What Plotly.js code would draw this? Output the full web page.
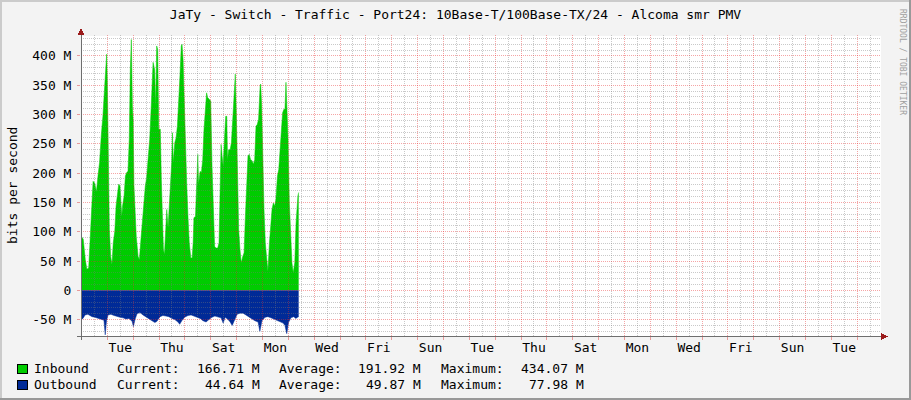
<!DOCTYPE html>
<html>
<head>
<meta charset="utf-8">
<script src="https://cdn.plot.ly/plotly-3.0.1.min.js"></script>
<style>
  html, body { margin: 0; padding: 0; background: #F3F3F3; }
  #chart { width: 911px; height: 400px; }
  .shapelayer path { shape-rendering: crispEdges; }
</style>
</head>
<body>
<div id="chart"></div>
<script>
// x values are days since Monday 00:00, y values are Mbit/s

const inDays = [0.00, 0.07, 0.15, 0.21, 0.28, 0.33, 0.38, 0.45, 0.51, 0.58, 0.64, 0.70, 0.77, 0.83, 0.90, 0.95, 0.975, 1.00, 1.04, 1.08,
  1.13, 1.18, 1.23, 1.29, 1.34, 1.39, 1.44, 1.49, 1.56, 1.59, 1.65, 1.70, 1.75, 1.80, 1.85, 1.89, 1.93, 1.97, 2.00, 2.03,
  2.06, 2.12, 2.19, 2.24, 2.29, 2.34, 2.41, 2.47, 2.52, 2.57, 2.64, 2.70, 2.77, 2.83, 2.87, 2.91, 2.95, 2.99, 3.05, 3.09,
  3.13, 3.17, 3.21, 3.25, 3.30, 3.35, 3.40, 3.45, 3.49, 3.52, 3.55, 3.61, 3.66, 3.71, 3.76, 3.81, 3.86, 3.89, 3.93, 3.97,
  4.02, 4.07, 4.12, 4.17, 4.23, 4.28, 4.32, 4.35, 4.41, 4.46, 4.50, 4.53, 4.59, 4.64, 4.69, 4.74, 4.79, 4.84, 4.88, 4.95,
  5.00, 5.05, 5.10, 5.15, 5.20, 5.27, 5.32, 5.36, 5.40, 5.44, 5.48, 5.53, 5.58, 5.62, 5.65, 5.69, 5.75, 5.80, 5.85, 5.90,
  5.95, 5.99, 6.03, 6.08, 6.13, 6.18, 6.24, 6.29, 6.34, 6.39, 6.44, 6.49, 6.54, 6.60, 6.65, 6.70, 6.75, 6.80, 6.85, 6.91,
  6.93, 6.97, 7.01, 7.06, 7.11, 7.16, 7.21, 7.27, 7.32, 7.37, 7.42, 7.47, 7.52, 7.58, 7.63, 7.68, 7.73, 7.78, 7.83, 7.87,
  7.91, 7.95, 7.99, 8.04, 8.09, 8.14, 8.19, 8.25, 8.30, 8.34, 8.37, 8.40];
const inMbps = [92, 87, 52, 36, 38, 81, 126, 186, 183, 168, 195, 218, 266, 297, 349, 389, 403, 360, 263, 104,
  58, 44, 81, 101, 144, 166, 181, 178, 126, 144, 161, 195, 201, 203, 258, 377, 428, 315, 290, 180,
  149, 92, 58, 52, 81, 109, 149, 178, 192, 218, 258, 315, 389, 377, 315, 417, 411, 275, 275, 189,
  126, 70, 61, 92, 138, 107, 149, 178, 218, 269, 218, 252, 260, 280, 315, 366, 417, 420, 394, 332,
  226, 183, 126, 81, 55, 55, 81, 124, 126, 178, 232, 181, 203, 201, 223, 275, 309, 337, 329, 326,
  323, 212, 132, 75, 72, 72, 81, 149, 249, 229, 212, 258, 297, 297, 223, 240, 240, 252, 297, 332,
  369, 303, 189, 104, 70, 47, 58, 64, 126, 189, 229, 232, 223, 221, 215, 223, 280, 283, 292, 349,
  352, 315, 206, 138, 81, 47, 32, 81, 115, 138, 149, 144, 155, 195, 206, 246, 286, 303, 309, 309,
  355, 303, 258, 149, 92, 47, 30, 47, 115, 149, 161, 167];

const outDays = [0.00, 0.06, 0.14, 0.25, 0.33, 0.41, 0.52, 0.64, 0.76, 0.87, 0.92, 0.97, 1.03, 1.14, 1.26, 1.37, 1.49, 1.61, 1.72, 1.84,
  1.96, 2.01, 2.07, 2.15, 2.26, 2.38, 2.50, 2.61, 2.73, 2.84, 2.92, 3.04, 3.15, 3.27, 3.38, 3.50, 3.61, 3.73, 3.80, 3.88,
  3.99, 4.12, 4.24, 4.35, 4.47, 4.59, 4.70, 4.82, 4.93, 5.05, 5.16, 5.28, 5.40, 5.48, 5.56, 5.67, 5.75, 5.83, 5.90, 6.02,
  6.13, 6.25, 6.36, 6.48, 6.60, 6.71, 6.83, 6.90, 6.98, 7.10, 7.21, 7.33, 7.45, 7.56, 7.68, 7.80, 7.87, 7.94, 8.01, 8.10,
  8.21, 8.29, 8.36, 8.40];
const outMbps = [50, 48, 42, 41, 43, 45, 46, 48, 50, 51, 76, 52, 42, 41, 43, 45, 46, 47, 49, 48,
  53, 62, 50, 40, 38, 42, 45, 48, 52, 55, 53, 45, 43, 44, 45, 48, 50, 54, 58, 52,
  46, 43, 42, 44, 46, 48, 52, 54, 50, 46, 44, 45, 47, 56, 46, 50, 54, 60, 52, 41,
  39, 39, 42, 46, 49, 52, 54, 70, 52, 46, 45, 47, 49, 51, 54, 56, 60, 74, 55, 47,
  45, 48, 46, 45];

// one label every second day, centred on noon
const dayLabels = ['Tue', 'Thu', 'Sat', 'Mon', 'Wed', 'Fri', 'Sun', 'Tue', 'Thu', 'Sat', 'Mon', 'Wed', 'Fri', 'Sun', 'Tue'];
const yTicks = [-50, 0, 50, 100, 150, 200, 250, 300, 350, 400];
const yTickText = ['-50 M', '0', '50 M', '100 M', '150 M', '200 M', '250 M', '300 M', '350 M', '400 M'];

const legendRows = [
  { name: 'Inbound', color: '#00CC00', current: '166.71 M', average: '191.92 M', maximum: '434.07 M' },
  { name: 'Outbound', color: '#002A97', current: '44.64 M', average: '49.87 M', maximum: '77.98 M' }
];

const title = 'JaTy - Switch - Traffic - Port24: 10Base-T/100Base-TX/24 - Alcoma smr PMV';

// plot frame in pixels
const W = 911, H = 400;
const L = 81, R = 881, T = 36, B = 336;
const xRange = [-0.017, 30.92];
const yRange = [-78, 434];

const px = x => (x - L) / (R - L);
const py = y => (B - y) / (B - T);

const FONT = 'DejaVu Sans Mono';

const traces = [
    {
        x: inDays,
        y: inMbps,
        type: 'scatter',
        mode: 'lines',
        fill: 'tozeroy',
        fillcolor: '#00CC00',
        line: { color: '#00CC00', width: 0.5 },
        hoverinfo: 'skip'
    },
    {
        x: outDays,
        y: outMbps.map(v => -v),
        type: 'scatter',
        mode: 'lines',
        fill: 'tozeroy',
        fillcolor: '#002A97',
        line: { color: '#002A97', width: 0.5 },
        hoverinfo: 'skip'
    },
    {
        // carries the day labels on the overlaid axis
        x: [xRange[0]],
        y: [0],
        xaxis: 'x2',
        mode: 'markers',
        marker: { opacity: 0 },
        hoverinfo: 'skip'
    }
];

// grid drawn above the areas, like rrdtool does
const shapes = [];
const minorGrid = 'rgba(120,120,120,0.4)';
const majorGrid = 'rgba(230,40,40,0.42)';

for (let k = 1; k <= 61; k++) {
    const d = k * 0.5;
    if (d > xRange[1]) break;
    shapes.push({
        type: 'line', xref: 'x', yref: 'paper', layer: 'above',
        x0: d, x1: d, y0: 0, y1: py(T - 2),
        line: { color: k % 2 === 0 ? majorGrid : minorGrid, width: 1, dash: '1px,1px' }
    });
}
for (let v = -70; v <= 430; v += 10) {
    shapes.push({
        type: 'line', xref: 'paper', yref: 'y', layer: 'above',
        x0: 0, x1: 1, y0: v, y1: v,
        line: { color: v % 50 === 0 ? majorGrid : minorGrid, width: 1, dash: '1px,1px' }
    });
}

// axes with arrow heads
const axisColor = '#6E6E6E';
const arrowColor = '#9B1B1B';
shapes.push(
    { type: 'line', xref: 'paper', yref: 'paper', layer: 'above',
      x0: px(81), x1: px(81), y0: py(340), y1: py(33), line: { color: axisColor, width: 1 } },
    { type: 'line', xref: 'paper', yref: 'paper', layer: 'above',
      x0: px(77), x1: px(883), y0: py(336.5), y1: py(336.5), line: { color: axisColor, width: 1 } },
    { type: 'path', xref: 'paper', yref: 'paper', layer: 'above',
      path: `M ${px(81)},${py(28)} L ${px(77.5)},${py(35)} L ${px(84.5)},${py(35)} Z`,
      fillcolor: arrowColor, line: { width: 0 } },
    { type: 'path', xref: 'paper', yref: 'paper', layer: 'above',
      path: `M ${px(888)},${py(336.5)} L ${px(881)},${py(333)} L ${px(881)},${py(340)} Z`,
      fillcolor: arrowColor, line: { width: 0 } }
);

// canvas border: light on top/left, dark on bottom/right
shapes.push(
    { type: 'line', xref: 'paper', yref: 'paper', x0: px(0), x1: px(W), y0: py(1), y1: py(1),
      line: { color: '#CBCBCB', width: 2 } },
    { type: 'line', xref: 'paper', yref: 'paper', x0: px(1), x1: px(1), y0: py(0), y1: py(H),
      line: { color: '#CBCBCB', width: 2 } },
    { type: 'line', xref: 'paper', yref: 'paper', x0: px(0), x1: px(W), y0: py(H - 1), y1: py(H - 1),
      line: { color: '#999999', width: 2 } },
    { type: 'line', xref: 'paper', yref: 'paper', x0: px(W - 1), x1: px(W - 1), y0: py(0), y1: py(H),
      line: { color: '#999999', width: 2 } }
);

const annotations = [];
const note = (text, x, y, anchor, extra = {}) => annotations.push(Object.assign({
    text: text, xref: 'paper', yref: 'paper', x: px(x), y: py(y),
    xanchor: anchor, yanchor: 'middle', showarrow: false, borderpad: 0,
    font: { family: FONT, size: 13, color: '#000000' }
}, extra));

legendRows.forEach((row, i) => {
    const y = 368.5 + i * 16;
    shapes.push({
        type: 'rect', xref: 'paper', yref: 'paper',
        x0: px(17.5), x1: px(27.5), y0: py(y - 4.5), y1: py(y + 4.5),
        fillcolor: row.color, line: { color: '#000000', width: 1 }
    });
    note(row.name, 33, y, 'left');
    note('Current:', 116, y, 'left');
    note(row.current, 261, y, 'right');
    note('Average:', 278, y, 'left');
    note(row.average, 422, y, 'right');
    note('Maximum:', 440, y, 'left');
    note(row.maximum, 584.5, y, 'right');
});

note('bits per second', 12, 186, 'center', { textangle: -90 });
note('RRDTOOL / TOBI OETIKER', 903, 62, 'center',
     { textangle: 90, font: { family: FONT, size: 8, color: '#A0A0A0' } });

const layout = {
    width: W,
    height: H,
    margin: { l: L, r: W - R, t: T, b: H - B, pad: 0 },
    paper_bgcolor: '#F3F3F3',
    plot_bgcolor: '#FFFFFF',
    showlegend: false,
    title: {
        text: title,
        xref: 'container', yref: 'container',
        x: 0.5, y: 1 - 14 / H, xanchor: 'center', yanchor: 'middle',
        font: { family: FONT, size: 13, color: '#000000' }
    },
    xaxis: {
        range: xRange,
        showgrid: false,
        zeroline: false,
        showline: false,
        tickmode: 'linear',
        tick0: 0,
        dtick: 1,
        ticks: 'outside',
        ticklen: 3,
        tickcolor: '#E89A9A',
        showticklabels: false,
        fixedrange: true
    },
    xaxis2: {
        overlaying: 'x',
        anchor: 'y',
        side: 'bottom',
        range: xRange,
        tickmode: 'array',
        tickvals: dayLabels.map((_, i) => 1.5 + 2 * i),
        ticktext: dayLabels,
        ticks: '',
        showgrid: false,
        zeroline: false,
        showline: false,
        tickfont: { family: FONT, size: 13, color: '#000000' },
        ticklabelstandoff: 2,
        fixedrange: true
    },
    yaxis: {
        range: yRange,
        tickmode: 'array',
        tickvals: yTicks,
        ticktext: yTickText,
        showgrid: false,
        zeroline: false,
        showline: false,
        ticks: 'outside',
        ticklen: 3,
        tickcolor: '#E89A9A',
        ticklabelstandoff: 3,
        tickfont: { family: FONT, size: 13, color: '#000000' },
        fixedrange: true
    },
    shapes: shapes,
    annotations: annotations
};

Plotly.newPlot('chart', traces, layout, { displayModeBar: false, staticPlot: true });
</script>
</body>
</html>
